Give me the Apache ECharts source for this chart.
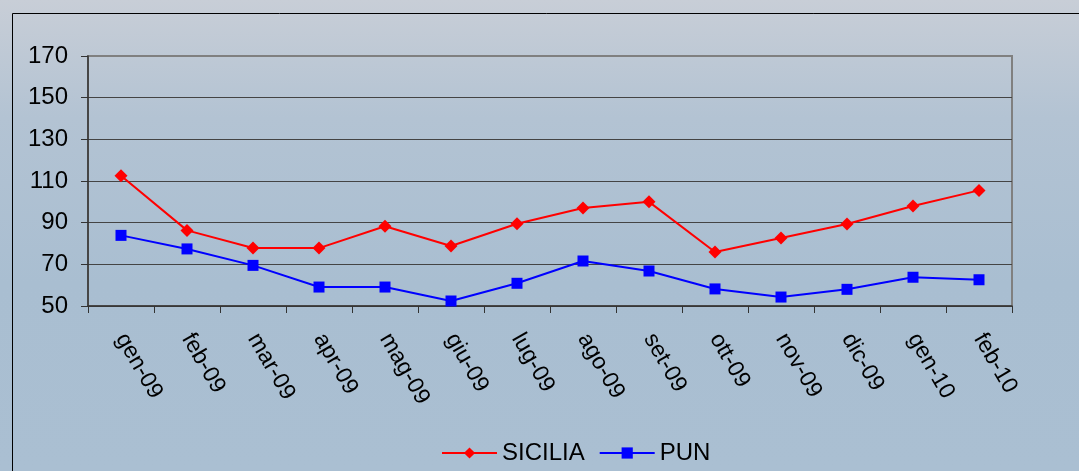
<!DOCTYPE html>
<html>
<head>
<meta charset="utf-8">
<script src="https://cdn.jsdelivr.net/npm/echarts@6/dist/echarts.min.js"></script>
<style>
html,body{margin:0;padding:0;}
#chart{width:1079px;height:471px;}
</style>
</head>
<body>
<div id="chart"></div>
<script>
var categories = ['gen-09','feb-09','mar-09','apr-09','mag-09','giu-09','lug-09','ago-09','set-09','ott-09','nov-09','dic-09','gen-10','feb-10'];
var sicilia = [112.5, 86.3, 77.8, 77.8, 88.3, 78.8, 89.5, 97, 100, 75.9, 82.6, 89.4, 98, 105.5];
var pun = [83.9, 77.4, 69.5, 59.1, 59.1, 52.4, 60.9, 71.6, 66.8, 58.2, 54.3, 58, 63.8, 62.6];
var yTicks = {min: 50, max: 170, interval: 20};

var chart = echarts.init(document.getElementById('chart'), null, {renderer: 'canvas'});
var font = 'Liberation Sans, Arial, sans-serif';
chart.setOption({
  backgroundColor: {
    type: 'linear', x: 0, y: 0, x2: 0, y2: 1,
    colorStops: [
      {offset: 0, color: '#c8ced7'},
      {offset: 0.25, color: '#b3c3d3'},
      {offset: 0.6, color: '#a9bed1'},
      {offset: 1, color: '#aabfd2'}
    ]
  },
  animation: false,
  graphic: [
    {type: 'rect', left: 10, top: 11, z: 100, silent: true,
     shape: {width: 1200, height: 600},
     style: {fill: 'none', stroke: '#000', lineWidth: 1}}
  ],
  grid: {
    left: 88, right: 67, top: 56, bottom: 165,
    show: true, borderColor: '#808080', borderWidth: 2, backgroundColor: 'transparent'
  },
  legend: {
    left: 436, top: 436,
    itemWidth: 55, itemHeight: 14, itemGap: 14,
    textStyle: {fontFamily: font, fontSize: 24, color: '#000'},
    data: ['SICILIA', 'PUN']
  },
  xAxis: {
    type: 'category',
    data: categories,
    boundaryGap: true,
    axisLine: {show: true, lineStyle: {color: '#333', width: 1.5}},
    axisTick: {show: true, length: 7, lineStyle: {color: '#333'}},
    axisLabel: {rotate: -60, margin: 29, fontFamily: font, fontSize: 23, color: '#000', interval: 0},
    splitLine: {show: false}
  },
  yAxis: {
    type: 'value',
    min: yTicks.min, max: yTicks.max, interval: yTicks.interval,
    axisLine: {show: true, lineStyle: {color: '#333', width: 1.5}},
    axisTick: {show: true, length: 7, lineStyle: {color: '#333'}},
    axisLabel: {margin: 20, fontFamily: font, fontSize: 24, color: '#000'},
    splitLine: {show: true, showMaxLine: false, lineStyle: {color: '#444', width: 1}}
  },
  series: [
    {name: 'SICILIA', type: 'line', data: sicilia, symbol: 'diamond', symbolSize: 13,
     itemStyle: {color: '#ff0000'}, lineStyle: {color: '#ff0000', width: 2}},
    {name: 'PUN', type: 'line', data: pun, symbol: 'rect', symbolSize: 11,
     itemStyle: {color: '#0000ff'}, lineStyle: {color: '#0000ff', width: 2}}
  ]
});
</script>
</body>
</html>
